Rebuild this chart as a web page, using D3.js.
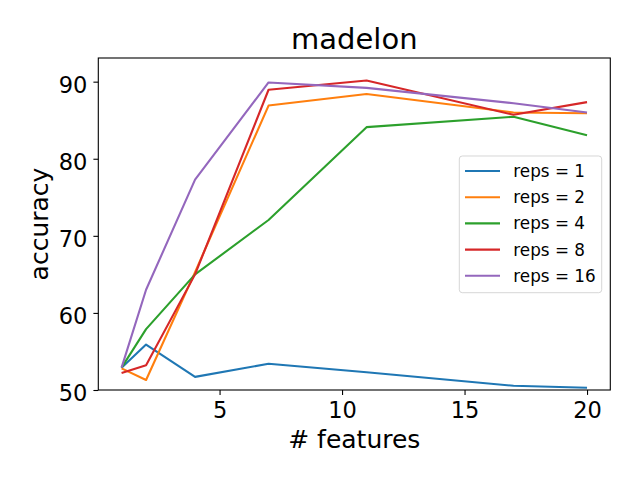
<!DOCTYPE html>
<html>
<head>
    <meta charset="utf-8">
    <title>madelon</title>
    <script src="https://cdnjs.cloudflare.com/ajax/libs/d3/7.8.5/d3.min.js"></script>
    <style>
        body { margin: 0; background: #fff; }
        svg { font-family: "DejaVu Sans", sans-serif; }
    </style>
</head>
<body>
<svg id="chart" width="640" height="480"></svg>
<script>
    // number of features on the x axis
    var features = [1, 2, 4, 7, 11, 17, 20];

    // accuracy per reps setting
    var reps1 = [52.9, 55.9, 51.7, 53.4, 52.3, 50.55, 50.3];
    var reps2 = [52.8, 51.3, 65.3, 86.9, 88.4, 86.0, 85.9];
    var reps4 = [52.9, 57.9, 65.0, 72.05, 84.1, 85.45, 83.05];
    var reps8 = [52.2, 53.2, 65.0, 88.95, 90.15, 85.7, 87.35];
    var reps16 = [52.9, 63.0, 77.3, 89.9, 89.2, 87.2, 86.0];

    var seriesNames = ["reps = 1", "reps = 2", "reps = 4", "reps = 8", "reps = 16"];
    var colors = ["#1f77b4", "#ff7f0e", "#2ca02c", "#d62728", "#9467bd"];
    var xTicks = [5, 10, 15, 20];
    var yTicks = [50, 60, 70, 80, 90];

    var allSeries = [reps1, reps2, reps4, reps8, reps16];

    // plot area edges
    var plotLeft = 98.3, plotRight = 610.3, plotTop = 58, plotBottom = 390;

    var x = d3.scaleLinear().domain([0.05, 20.95]).range([plotLeft, plotRight]);
    var y = d3.scaleLinear().domain([50, 93.07]).range([plotBottom, plotTop]);

    var svg = d3.select("#chart");

    // lines
    var line = d3.line()
        .x(function(d, i) { return x(features[i]); })
        .y(function(d) { return y(d); });

    svg.append("g").selectAll("path")
        .data(allSeries)
        .enter()
        .append("path")
        .attr("d", line)
        .attr("fill", "none")
        .attr("stroke", function(d, i) { return colors[i]; })
        .attr("stroke-width", 2.1)
        .attr("stroke-linejoin", "round");

    // axes
    var xAxis = svg.append("g")
        .attr("transform", "translate(0," + plotBottom + ")")
        .call(d3.axisBottom(x).tickValues(xTicks).tickSize(4.9).tickPadding(7.5).tickSizeOuter(0));
    xAxis.attr("font-family", null).attr("font-size", null);
    xAxis.select(".domain").remove();
    xAxis.selectAll("text").attr("font-size", 22.5).attr("fill", "#000");
    xAxis.selectAll("line").attr("stroke", "#000").attr("stroke-width", 1.1);

    var yAxis = svg.append("g")
        .attr("transform", "translate(" + plotLeft + ",0)")
        .call(d3.axisLeft(y).tickValues(yTicks).tickSize(4.9).tickPadding(6).tickSizeOuter(0));
    yAxis.attr("font-family", null).attr("font-size", null);
    yAxis.select(".domain").remove();
    yAxis.selectAll("text").attr("font-size", 22.5)
        .attr("fill", "#000").attr("dy", "0.46em");
    yAxis.selectAll("line").attr("stroke", "#000").attr("stroke-width", 1.1);

    // frame
    svg.append("rect")
        .attr("x", plotLeft).attr("y", plotTop)
        .attr("width", plotRight - plotLeft).attr("height", plotBottom - plotTop)
        .attr("fill", "none").attr("stroke", "#000").attr("stroke-width", 1.1);

    // title and labels
    svg.append("text")
        .attr("x", (plotLeft + plotRight) / 2).attr("y", 48.5)
        .attr("text-anchor", "middle").attr("font-size", 29)
        .text("madelon");

    svg.append("text")
        .attr("x", (plotLeft + plotRight) / 2).attr("y", 448)
        .attr("text-anchor", "middle").attr("font-size", 25)
        .text("# features");

    svg.append("text")
        .attr("transform", "translate(48," + (plotTop + plotBottom) / 2 + ") rotate(-90)")
        .attr("text-anchor", "middle").attr("font-size", 25)
        .text("accuracy");

    // legend
    var legend = svg.append("g");
    legend.append("rect")
        .attr("x", 459.3).attr("y", 156)
        .attr("width", 142.4).attr("height", 136.7)
        .attr("rx", 3).attr("ry", 3)
        .attr("fill", "rgba(255,255,255,0.8)")
        .attr("stroke", "rgba(204,204,204,0.8)").attr("stroke-width", 1);

    var rows = legend.selectAll("g.row")
        .data(seriesNames)
        .enter()
        .append("g")
        .attr("class", "row")
        .attr("transform", function(d, i) { return "translate(0," + (171 + i * 26.2) + ")"; });

    rows.append("line")
        .attr("x1", 465).attr("x2", 500)
        .attr("stroke", function(d, i) { return colors[i]; })
        .attr("stroke-width", 2.1);

    rows.append("text")
        .attr("x", 513.3).attr("y", 6)
        .attr("font-size", 16.8)
        .text(function(d) { return d; });
</script>
</body>
</html>
